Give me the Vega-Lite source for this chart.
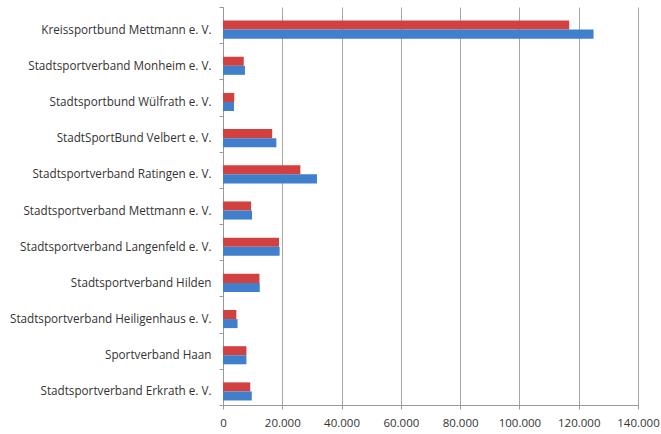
{
  "$schema": "https://vega.github.io/schema/vega-lite/v6.json",
  "autosize": {"type": "none"},
  "width": 415,
  "height": 398,
  "padding": {"left": 223, "top": 7, "right": 23, "bottom": 29},
  "background": "white",
  "data": {
    "values": [
      {"verband": "Kreissportbund Mettmann e. V.", "reihe": "A", "wert": 116800},
      {"verband": "Kreissportbund Mettmann e. V.", "reihe": "B", "wert": 125000},
      {"verband": "Stadtsportverband Monheim e. V.", "reihe": "A", "wert": 7000},
      {"verband": "Stadtsportverband Monheim e. V.", "reihe": "B", "wert": 7400},
      {"verband": "Stadtsportbund Wülfrath e. V.", "reihe": "A", "wert": 3800},
      {"verband": "Stadtsportbund Wülfrath e. V.", "reihe": "B", "wert": 3700},
      {"verband": "StadtSportBund Velbert e. V.", "reihe": "A", "wert": 16600},
      {"verband": "StadtSportBund Velbert e. V.", "reihe": "B", "wert": 18000},
      {"verband": "Stadtsportverband Ratingen e. V.", "reihe": "A", "wert": 26100},
      {"verband": "Stadtsportverband Ratingen e. V.", "reihe": "B", "wert": 31700},
      {"verband": "Stadtsportverband Mettmann e. V.", "reihe": "A", "wert": 9500},
      {"verband": "Stadtsportverband Mettmann e. V.", "reihe": "B", "wert": 9800},
      {"verband": "Stadtsportverband Langenfeld e. V.", "reihe": "A", "wert": 18900},
      {"verband": "Stadtsportverband Langenfeld e. V.", "reihe": "B", "wert": 19100},
      {"verband": "Stadtsportverband Hilden", "reihe": "A", "wert": 12300},
      {"verband": "Stadtsportverband Hilden", "reihe": "B", "wert": 12400},
      {"verband": "Stadtsportverband Heiligenhaus e. V.", "reihe": "A", "wert": 4500},
      {"verband": "Stadtsportverband Heiligenhaus e. V.", "reihe": "B", "wert": 4900},
      {"verband": "Sportverband Haan", "reihe": "A", "wert": 7900},
      {"verband": "Sportverband Haan", "reihe": "B", "wert": 7900},
      {"verband": "Stadtsportverband Erkrath e. V.", "reihe": "A", "wert": 9200},
      {"verband": "Stadtsportverband Erkrath e. V.", "reihe": "B", "wert": 9700}
    ]
  },
  "mark": {"type": "bar"},
  "encoding": {
    "y": {
      "field": "verband",
      "type": "nominal",
      "sort": null,
      "scale": {"paddingInner": 0, "paddingOuter": 0},
      "axis": {
        "title": null,
        "labelFont": "Open Sans",
        "labelFontSize": 11.7,
        "labelColor": "#333333",
        "labelPadding": 8,
        "labelOffset": 4,
        "labelLimit": 260,
        "domainColor": "#999999",
        "tickColor": "#999999",
        "tickSize": 4,
        "tickBand": "extent",
        "grid": false
      }
    },
    "yOffset": {
      "field": "reihe",
      "type": "nominal",
      "sort": ["A", "B"],
      "scale": {"paddingInner": 0, "paddingOuter": 1.41, "align": 0.75}
    },
    "x": {
      "field": "wert",
      "type": "quantitative",
      "scale": {"domain": [0, 140000], "nice": false},
      "axis": {
        "title": null,
        "values": [0, 20000, 40000, 60000, 80000, 100000, 120000, 140000],
        "labelExpr": "replace(format(datum.value, ','), ',', '.')",
        "labelOverlap": false,
        "labelFlush": false,
        "labelBound": false,
        "labelFont": "Open Sans",
        "labelFontSize": 11.5,
        "labelColor": "#333333",
        "labelPadding": 8,
        "domainColor": "#999999",
        "tickColor": "#999999",
        "tickSize": 4,
        "grid": true,
        "gridColor": "#a6a6a6",
        "gridWidth": 1
      }
    },
    "color": {
      "field": "reihe",
      "type": "nominal",
      "scale": {"domain": ["A", "B"], "range": ["#d2413f", "#3f7fcc"]},
      "legend": null
    }
  },
  "config": {"view": {"stroke": null}}
}
